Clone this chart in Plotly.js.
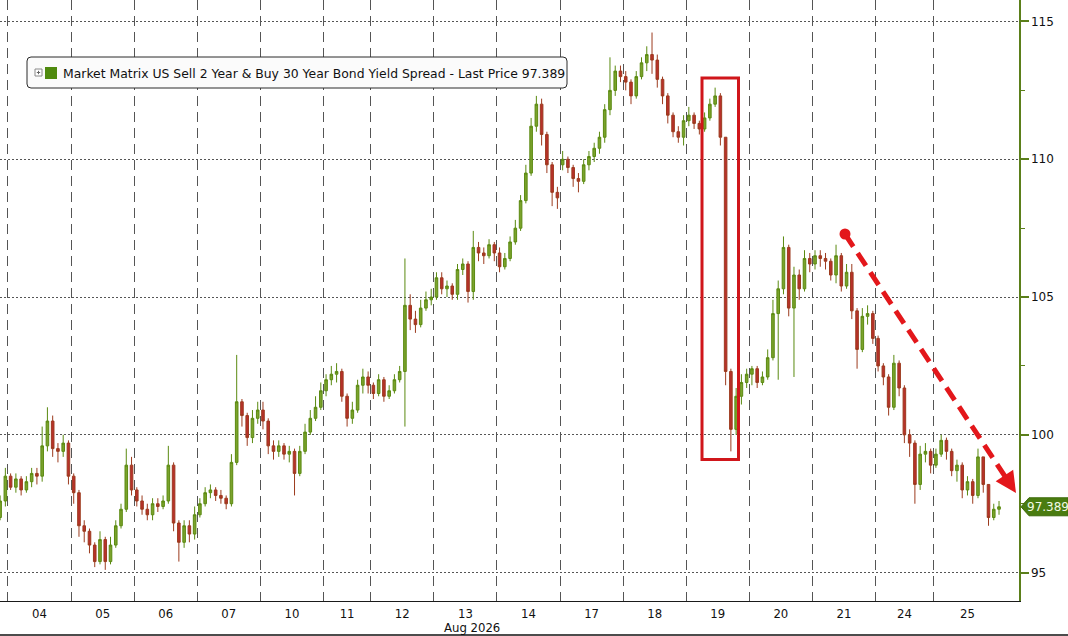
<!DOCTYPE html>
<html>
<head>
<meta charset="utf-8">
<script src="https://cdn.plot.ly/plotly-3.0.1.min.js"></script>
<style>html,body{margin:0;padding:0;background:#fff;}#chart{width:1068px;height:636px;}</style>
</head>
<body>
<div id="chart"></div>
<script>
// ---- data ----
const dayLabels = ['04','05','06','07','10','11','12','13','14','17','18','19','20','21','24','25'];
const candlesPerDay = [12,12,12,12,12,9,12,12,12,12,12,12,12,12,11,13];
const preCandles = 2; // tail of the previous session
const monthLabel = 'Aug 2026';
const lastPrice = 97.389;
const seriesName = 'Market Matrix US Sell 2 Year & Buy 30 Year Bond Yield Spread - Last Price 97.389';

const openValues = [
  97.0, 97.6,
  98.5, 98.1, 98.4, 98.0, 98.3, 98.6, 98.5, 99.6, 100.5, 99.5, 99.4, 99.7,
  98.5, 97.9, 96.7, 96.5, 96.0, 95.4, 96.2, 95.4, 96.0, 96.7, 97.3, 98.9,
  98.0, 97.6, 97.3, 97.1, 97.5, 97.4, 97.6, 98.9, 96.8, 96.1, 96.7, 96.4,
  97.1, 97.5, 97.9, 98.0, 97.8, 97.7, 97.5, 99.0, 101.2, 100.7, 99.9, 100.6,
  100.9, 100.5, 99.6, 99.4, 99.6, 99.3, 99.4, 98.6, 99.4, 100.1, 100.6, 101.0,
  101.6, 102.0, 102.2, 102.3, 101.4, 100.6, 100.9, 101.8, 102.1,
  101.8, 101.5, 102.0, 101.4, 101.6, 102.0, 102.3, 104.7, 104.2, 104.0, 104.6, 104.9,
  105.0, 105.7, 105.3, 105.4, 105.1, 106.0, 106.2, 105.2, 106.8, 106.6, 106.5, 106.9,
  106.6, 106.1, 106.4, 107.0, 107.5, 108.5, 109.5, 111.2, 112.0, 110.9, 109.8, 108.8,
  109.8, 110.0, 109.7, 109.3, 109.2, 109.8, 110.1, 110.4, 110.8, 111.8, 112.5, 113.2,
  113.0, 112.8, 112.3, 113.0, 113.5, 113.8, 113.6, 112.9, 112.3, 111.6, 111.0, 110.8,
  111.4, 111.6, 111.3, 111.1, 111.5, 112.0, 112.3, 110.8, 102.3, 100.2, 101.4, 101.9,
  102.2, 102.4, 101.9, 102.1, 102.8, 104.4, 105.3, 106.8, 104.6, 105.8, 105.3, 106.4,
  106.2, 106.5, 106.4, 106.3, 105.8, 106.5, 105.4, 105.9, 104.5, 103.1, 104.3, 104.4,
  103.5, 102.5, 102.1, 101.0, 102.6, 101.7, 100.0, 99.7, 98.2, 99.3, 99.4,
  98.9, 99.3, 99.8, 99.4, 98.7, 98.9, 98.0, 98.3, 97.8, 99.2, 98.2, 97.0, 97.3
];
const highValues = [
  97.8, 98.8,
  98.6, 98.6, 98.5, 98.5, 98.8, 98.8, 100.3, 101.0, 100.7, 99.7, 100.0, 99.8,
  98.6, 98.0, 96.9, 96.6, 96.1, 96.5, 96.3, 96.3, 96.9, 97.5, 99.5, 99.2,
  98.1, 97.8, 97.5, 97.7, 97.7, 97.8, 99.6, 99.0, 96.9, 96.9, 96.9, 97.4,
  97.7, 98.1, 98.2, 98.1, 98.0, 97.8, 99.3, 102.9, 101.3, 100.8, 100.9, 101.2,
  101.2, 100.6, 99.8, 99.8, 99.7, 99.6, 99.5, 99.6, 100.4, 100.9, 101.4, 101.9,
  102.2, 102.5, 102.6, 102.4, 101.5, 101.2, 102.0, 102.4, 102.3,
  101.9, 102.2, 102.1, 101.8, 102.2, 102.5, 106.4, 105.1, 104.5, 104.9, 105.2, 105.3,
  105.9, 105.9, 105.6, 105.5, 106.2, 106.4, 106.3, 107.4, 107.0, 106.8, 107.1, 107.0,
  106.8, 106.6, 107.2, 107.8, 108.7, 109.8, 111.5, 112.3, 112.2, 111.0, 109.9, 109.0,
  110.3, 110.1, 109.8, 109.5, 110.0, 110.3, 110.6, 111.0, 112.0, 113.7, 113.4, 113.4,
  113.2, 112.9, 113.2, 113.7, 114.1, 114.6, 113.8, 113.0, 112.4, 111.7, 111.2, 111.6,
  111.9, 111.7, 111.4, 111.7, 112.2, 112.6, 112.4, 110.8, 102.4, 101.7, 102.2, 102.4,
  102.5, 102.5, 102.3, 103.1, 104.9, 105.6, 107.2, 106.9, 106.1, 106.0, 106.7, 106.6,
  106.7, 106.7, 106.6, 106.4, 106.9, 106.6, 106.2, 106.2, 104.6, 104.6, 104.7, 104.5,
  103.6, 102.6, 102.2, 102.9, 102.7, 101.8, 100.2, 99.8, 99.6, 99.7, 99.5,
  99.5, 100.0, 99.9, 99.5, 99.1, 99.0, 98.5, 98.4, 99.5, 99.2, 98.2, 97.5, 97.6
];
const lowValues = [
  96.9, 97.4,
  98.0, 97.9, 97.8, 97.9, 98.1, 98.2, 98.3, 99.4, 99.2, 99.0, 99.2, 98.2,
  97.5, 96.3, 96.1, 95.7, 95.2, 95.3, 95.1, 95.3, 95.9, 96.6, 97.2, 97.8,
  97.4, 97.1, 96.9, 96.9, 97.2, 97.3, 97.5, 96.5, 95.4, 95.9, 96.1, 96.2,
  97.0, 97.4, 97.7, 97.6, 97.5, 97.3, 97.4, 98.9, 100.3, 99.6, 99.7, 100.4,
  100.2, 99.3, 99.1, 99.2, 99.1, 99.0, 97.8, 98.5, 99.3, 100.0, 100.5, 100.9,
  101.4, 101.8, 101.9, 101.2, 100.3, 100.4, 100.8, 101.5, 101.5,
  101.3, 101.4, 101.2, 101.3, 101.5, 101.9, 100.3, 103.8, 103.7, 103.9, 104.5, 104.7,
  104.9, 105.1, 105.0, 104.9, 104.9, 105.8, 104.8, 104.9, 106.3, 106.2, 106.4, 106.3,
  105.9, 106.0, 106.3, 106.9, 107.4, 108.4, 109.4, 111.0, 110.5, 109.5, 108.3, 108.2,
  109.6, 109.5, 109.0, 108.8, 109.1, 109.6, 109.9, 110.2, 110.6, 111.6, 112.3, 112.8,
  112.5, 112.0, 112.2, 112.9, 113.2, 113.1, 112.6, 112.0, 111.3, 110.8, 110.6, 110.5,
  111.2, 111.1, 110.9, 111.0, 111.4, 111.9, 110.5, 101.8, 99.4, 100.0, 101.1, 101.7,
  101.8, 101.7, 101.8, 102.0, 102.7, 102.0, 105.1, 104.3, 102.1, 104.9, 105.2, 105.9,
  106.0, 106.1, 106.0, 105.6, 105.5, 105.2, 105.3, 104.2, 102.4, 103.0, 104.0, 103.3,
  102.3, 101.8, 100.7, 100.9, 101.4, 99.7, 99.2, 97.5, 98.0, 99.0, 98.6,
  98.8, 99.2, 99.1, 98.5, 98.3, 97.7, 97.8, 97.5, 97.7, 97.9, 96.7, 96.9, 97.1
];
const closeValues = [
  97.6, 98.5,
  98.1, 98.4, 98.0, 98.3, 98.6, 98.5, 99.6, 100.5, 99.5, 99.4, 99.7, 98.5,
  97.9, 96.7, 96.5, 96.0, 95.4, 96.2, 95.4, 96.0, 96.7, 97.3, 98.9, 98.0,
  97.6, 97.3, 97.1, 97.5, 97.4, 97.6, 98.9, 96.8, 96.1, 96.7, 96.4, 97.1,
  97.5, 97.9, 98.0, 97.8, 97.7, 97.5, 99.0, 101.2, 100.7, 99.9, 100.6, 100.9,
  100.5, 99.6, 99.4, 99.6, 99.3, 99.4, 98.6, 99.4, 100.1, 100.6, 101.0, 101.6,
  102.0, 102.2, 102.3, 101.4, 100.6, 100.9, 101.8, 102.1, 101.8,
  101.5, 102.0, 101.4, 101.6, 102.0, 102.3, 104.7, 104.2, 104.0, 104.6, 104.9, 105.0,
  105.7, 105.3, 105.4, 105.1, 106.0, 106.2, 105.2, 106.8, 106.6, 106.5, 106.9, 106.6,
  106.1, 106.4, 107.0, 107.5, 108.5, 109.5, 111.2, 112.0, 110.9, 109.8, 108.8, 108.6,
  110.0, 109.7, 109.3, 109.2, 109.8, 110.1, 110.4, 110.8, 111.8, 112.5, 113.2, 113.0,
  112.8, 112.3, 113.0, 113.5, 113.8, 113.6, 112.9, 112.3, 111.6, 111.0, 110.8, 111.4,
  111.6, 111.3, 111.1, 111.5, 112.0, 112.3, 110.8, 102.3, 100.2, 101.4, 101.9, 102.2,
  102.4, 101.9, 102.1, 102.8, 104.4, 105.3, 106.8, 104.6, 105.8, 105.3, 106.4, 106.2,
  106.5, 106.4, 106.3, 105.8, 106.5, 105.4, 105.9, 104.5, 103.1, 104.3, 104.4, 103.5,
  102.5, 102.1, 101.0, 102.6, 101.7, 100.0, 99.7, 98.2, 99.3, 99.4, 98.9,
  99.3, 99.8, 99.4, 98.7, 98.9, 98.0, 98.3, 97.8, 99.2, 98.2, 97.0, 97.3, 97.389
];
const yTickValues = [95, 100, 105, 110, 115];

// ---- layout helpers ----
const W = 1068, H = 636, PL = 0, PR = 1019, PT = 0, PB = 601;
const xr = [-0.02, 193.8];
const yr = [93.97, 115.78];
const px2x = p => xr[0] + (p - PL) / (PR - PL) * (xr[1] - xr[0]);
const py2y = p => yr[1] - (p - PT) / (PB - PT) * (yr[1] - yr[0]);
const pxp = p => (p - PL) / (PR - PL);        // pixel -> paper x
const pyp = p => 1 - (p - PT) / (PB - PT);    // pixel -> paper y

const xIdx = closeValues.map((_, i) => i);
const centers = [], bounds = [];
let s = preCandles - 0.5;
candlesPerDay.forEach(n => { bounds.push(s); centers.push(s + n / 2); s += n; });

const GREEN_FILL = '#7ba22c', GREEN_LINE = '#5a8a10';
const RED_FILL = '#b8302b', RED_LINE = '#9c3b1e';
const ARROW_RED = '#e3171b';

const trace = {
  type: 'candlestick',
  x: xIdx, open: openValues, high: highValues, low: lowValues, close: closeValues,
  increasing: {line: {color: GREEN_LINE, width: 1}, fillcolor: GREEN_FILL},
  decreasing: {line: {color: RED_LINE, width: 1}, fillcolor: RED_FILL},
  whiskerwidth: 0, hoverinfo: 'skip', showlegend: false
};

// arrow geometry (pixels)
const dot = [845, 234], tip = [1016, 493];
const dx = tip[0] - dot[0], dy = tip[1] - dot[1], L = Math.hypot(dx, dy);
const ux = dx / L, uy = dy / L, hl = 21, hw = 10.5;
const base = [tip[0] - hl * ux, tip[1] - hl * uy];
const c1 = [base[0] + hw * (-uy), base[1] + hw * ux];
const c2 = [base[0] - hw * (-uy), base[1] - hw * ux];
const P = pt => px2x(pt[0]) + ',' + py2y(pt[1]);

// rounded legend box path (paper coords)
function roundRect(x0, y0, x1, y1, r) {
  const X = pxp, Y = pyp;
  return `M${X(x0 + r)},${Y(y0)} L${X(x1 - r)},${Y(y0)} Q${X(x1)},${Y(y0)} ${X(x1)},${Y(y0 + r)} ` +
         `L${X(x1)},${Y(y1 - r)} Q${X(x1)},${Y(y1)} ${X(x1 - r)},${Y(y1)} L${X(x0 + r)},${Y(y1)} ` +
         `Q${X(x0)},${Y(y1)} ${X(x0)},${Y(y1 - r)} L${X(x0)},${Y(y0 + r)} Q${X(x0)},${Y(y0)} ${X(x0 + r)},${Y(y0)} Z`;
}

const tagY = (yr[1] - lastPrice) / (yr[1] - yr[0]) * (PB - PT) + PT;
const tagPath = `M${pxp(1021)},${pyp(tagY)} L${pxp(1029)},${pyp(tagY - 9)} L${pxp(1068)},${pyp(tagY - 9)} ` +
                `L${pxp(1068)},${pyp(tagY + 9)} L${pxp(1029)},${pyp(tagY + 9)} Z`;

const shapes = [
  // legend box
  {type: 'path', xref: 'paper', yref: 'paper', path: roundRect(27, 57, 567, 88, 4),
   fillcolor: '#fbfbfb', line: {color: '#2a2a2a', width: 1}},
  // expand icon
  {type: 'rect', xref: 'paper', yref: 'paper', x0: pxp(35), x1: pxp(42), y0: pyp(69), y1: pyp(76),
   fillcolor: '#ffffff', line: {color: '#8a8a8a', width: 1}},
  {type: 'line', xref: 'paper', yref: 'paper', x0: pxp(36.8), x1: pxp(40.2), y0: pyp(72.5), y1: pyp(72.5),
   line: {color: '#666', width: 1}},
  {type: 'line', xref: 'paper', yref: 'paper', x0: pxp(38.5), x1: pxp(38.5), y0: pyp(70.8), y1: pyp(74.2),
   line: {color: '#666', width: 1}},
  // green swatch
  {type: 'rect', xref: 'paper', yref: 'paper', x0: pxp(45), x1: pxp(57), y0: pyp(67), y1: pyp(79),
   fillcolor: '#4f8a0e', line: {width: 0}},
  // red box
  {type: 'rect', xref: 'x', yref: 'y', x0: px2x(702), x1: px2x(738.5), y0: py2y(78), y1: py2y(459.5),
   fillcolor: 'rgba(0,0,0,0)', line: {color: '#d0161b', width: 3}},
  // dashed arrow
  {type: 'line', xref: 'x', yref: 'y', x0: px2x(dot[0]), y0: py2y(dot[1]), x1: px2x(base[0] + 2 * ux), y1: py2y(base[1] + 2 * uy),
   line: {color: ARROW_RED, width: 5, dash: '15px,8px'}},
  {type: 'circle', xref: 'x', yref: 'y', x0: px2x(dot[0] - 5.5), x1: px2x(dot[0] + 5.5), y0: py2y(dot[1] + 5.5), y1: py2y(dot[1] - 5.5),
   fillcolor: ARROW_RED, line: {width: 0}},
  {type: 'path', xref: 'x', yref: 'y', path: `M${P(tip)} L${P(c1)} L${P(c2)} Z`,
   fillcolor: ARROW_RED, line: {width: 0}},
  // last price tag
  {type: 'path', xref: 'paper', yref: 'paper', path: tagPath, fillcolor: '#4a7c10', line: {color: '#3d6a0a', width: 1}},
  // bottom frame line
  {type: 'line', xref: 'paper', yref: 'paper', x0: 0, x1: pxp(1068), y0: pyp(635), y1: pyp(635),
   line: {color: '#111', width: 1.5}}
];

const annotations = [
  {xref: 'paper', yref: 'paper', x: pxp(61), y: pyp(73), xanchor: 'left', yanchor: 'middle',
   text: seriesName, showarrow: false, font: {family: 'DejaVu Sans, Verdana, sans-serif', size: 12.4, color: '#111'}},
  {xref: 'paper', yref: 'paper', x: pxp(1048), y: pyp(tagY), xanchor: 'center', yanchor: 'middle',
   text: lastPrice.toFixed(3), showarrow: false, font: {family: 'DejaVu Sans, Verdana, sans-serif', size: 12, color: '#f2fae6'}},
  {xref: 'paper', yref: 'paper', x: pxp(472), y: pyp(627), xanchor: 'center', yanchor: 'middle',
   text: monthLabel, showarrow: false, font: {family: 'Liberation Sans Narrow, Arial Narrow, DejaVu Sans Condensed, sans-serif', size: 13, color: '#111'}}
];

const layout = {
  width: W, height: H,
  margin: {l: PL, r: W - PR, t: PT, b: H - PB, pad: 0},
  paper_bgcolor: '#ffffff', plot_bgcolor: '#ffffff',
  showlegend: false,
  xaxis: {
    range: xr, rangeslider: {visible: false}, fixedrange: true,
    tickmode: 'array', tickvals: centers, ticktext: dayLabels,
    ticks: '', showgrid: false, zeroline: false,
    showline: true, linecolor: '#1a1a1a', linewidth: 1,
    tickfont: {family: 'Liberation Sans Narrow, Arial Narrow, DejaVu Sans Condensed, sans-serif', size: 13, color: '#111'},
    minor: {tickmode: 'array', tickvals: bounds, showgrid: true, gridcolor: '#555555', gridwidth: 1, griddash: '10px,6px', ticks: ''}
  },
  yaxis: {
    range: yr, side: 'right', fixedrange: true,
    tickmode: 'array', tickvals: yTickValues,
    ticks: 'outside', ticklen: 8, tickwidth: 2, tickcolor: '#5b7f1a',
    showgrid: true, gridcolor: '#555555', gridwidth: 1, griddash: '2px,2px',
    zeroline: false, showline: true, linecolor: '#5b7f1a', linewidth: 1.5,
    tickfont: {family: 'DejaVu Sans, Verdana, sans-serif', size: 12, color: '#111'},
    minor: {dtick: 2.5, tick0: 0, ticks: 'outside', ticklen: 4, tickcolor: '#5b7f1a', tickwidth: 1, showgrid: false}
  },
  shapes: shapes,
  annotations: annotations
};

Plotly.newPlot('chart', [trace], layout, {staticPlot: true, displayModeBar: false});
</script>
</body>
</html>
